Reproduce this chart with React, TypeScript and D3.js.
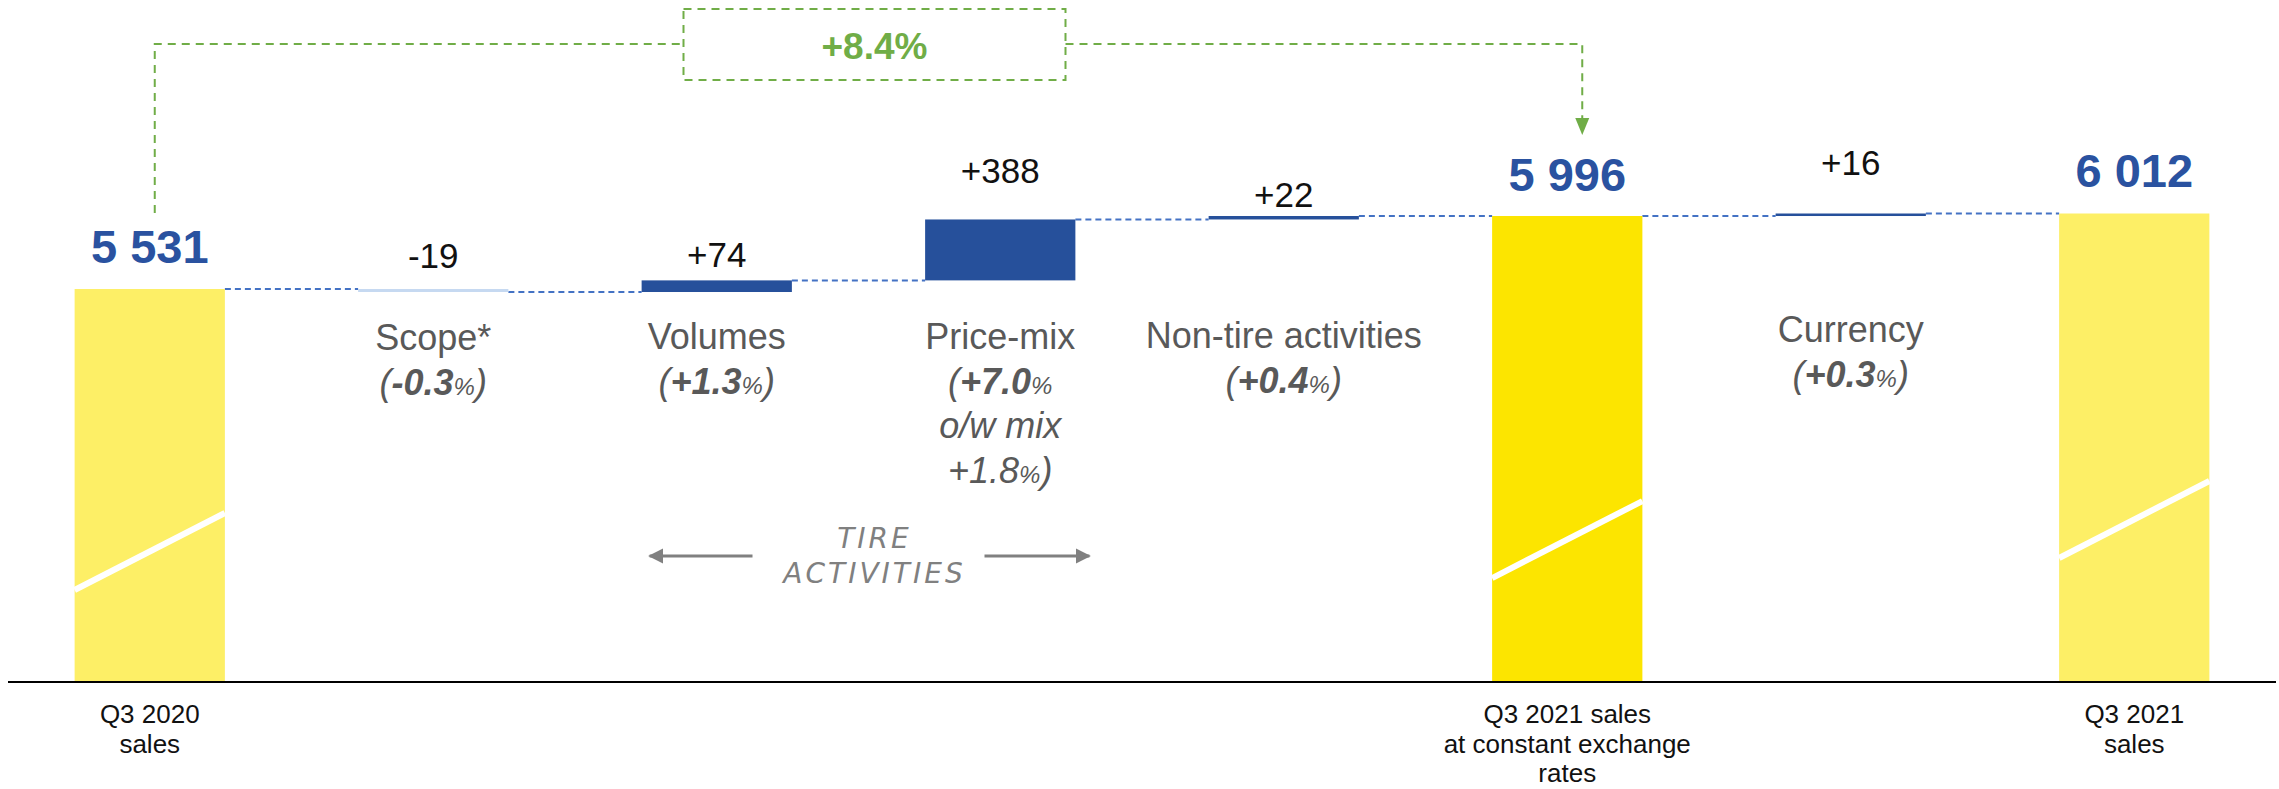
import React from "react";
import * as d3 from "d3";

// ---------- data ----------
const categories = [
  "Q3 2020 sales",
  "Scope*",
  "Volumes",
  "Price-mix",
  "Non-tire activities",
  "Q3 2021 sales at constant exchange rates",
  "Currency",
  "Q3 2021 sales",
];
const kinds = ["total", "delta", "delta", "delta", "delta", "total", "delta", "total"];
const values = [5531, -19, 74, 388, 22, 5996, 16, 6012];
const valueLabels = ["5 531", "-19", "+74", "+388", "+22", "5 996", "+16", "6 012"];
const deltaNames = ["", "Scope*", "Volumes", "Price-mix", "Non-tire activities", "", "Currency", ""];
const deltaPct = ["", "-0.3", "+1.3", "+7.0", "+0.4", "", "+0.3", ""];
const mixText = "o/w mix";
const mixPct = "+1.8";
const bottomLabels = [
  ["Q3 2020", "sales"],
  [],
  [],
  [],
  [],
  ["Q3 2021 sales", "at constant exchange", "rates"],
  [],
  ["Q3 2021", "sales"],
];
const totalChange = "+8.4%";
const tireLines = ["TIRE", "ACTIVITIES"];
// axis-break stripe level (value where the stripe starts on the left edge of each total bar)
const breakValues = [3614, 0, 0, 0, 0, 3690, 0, 3818];
const axisBase = 3028;

// ---------- layout ----------
const W = 2279;
const H = 789;
const baseY = 682;
const labelGap = [26, 21, 13, 36, 9, 25, 39, 27];
const catLabelY = [0, 350, 349, 349, 348, 0, 342, 0];
const lineStep = 44.5;

const colors = {
  totalLight: "#FDEF66",
  totalStrong: "#FCE500",
  delta: "#26509B",
  scope: "#C6D9F1",
  connector: "#4472C4",
  blueText: "#2A52A0",
  grey: "#595959",
  green: "#70AD47",
  tire: "#808080",
};

const FONT = "'Liberation Sans', Arial, sans-serif";

export default function App() {
  const x = d3
    .scaleBand<string>()
    .domain(categories)
    .range([8, 2276])
    .paddingInner(0.47)
    .paddingOuter(0.235);
  const bw = x.bandwidth();
  const y = d3.scaleLinear().domain([axisBase, 6012]).range([baseY, 213.5]);

  // waterfall levels
  let level = 0;
  const bars = values.map((v, i) => {
    let start: number, end: number;
    if (kinds[i] === "total") {
      start = axisBase;
      end = v;
    } else {
      start = level;
      end = level + v;
    }
    level = end;
    const top = Math.max(start, end);
    const bottom = Math.min(start, end);
    return { i, start, end, top, bottom, x0: x(categories[i]) as number };
  });

  const fillFor = (i: number) => {
    if (kinds[i] === "total") return i === 5 ? colors.totalStrong : colors.totalLight;
    return values[i] < 0 ? colors.scope : colors.delta;
  };

  const cx = (i: number) => (x(categories[i]) as number) + bw / 2;

  // green annotation path
  const gLeftX = cx(0) + 5;
  const gRightX = cx(5) + 15;
  const gTopY = 44;
  const gLeftBottom = 213;
  const arrowTip = 135;
  const boxCx = (gLeftX + gRightX) / 2 + 6;
  const boxW = 382;
  const boxTop = 9;
  const boxBottom = 80;

  const pctLine = (pct: string, bold: boolean, open: boolean, close: boolean) => (
    <>
      {open ? <tspan fontWeight="normal">(</tspan> : null}
      <tspan fontWeight={bold ? "bold" : "normal"}>{pct}</tspan>
      <tspan fontWeight="normal" fontSize={24}>%</tspan>
      {close ? <tspan fontWeight="normal">)</tspan> : null}
    </>
  );

  // tire activities
  const tireLeftTip = (x("Volumes") as number) + 8;
  const tireRightTip = (x("Price-mix") as number) + bw + 14;
  const tireCx = (tireLeftTip + tireRightTip) / 2 + 5;
  const tireArrowY = 556;

  return (
    <svg
      width={W}
      height={H}
      viewBox={`0 0 ${W} ${H}`}
      style={{ position: "absolute", left: 0, top: 0, display: "block", background: "#fff" }}
    >
      <defs>
        <marker id="greenArrow" viewBox="0 0 10 10" refX="10" refY="5" markerWidth="7" markerHeight="8" markerUnits="strokeWidth" orient="auto">
          <path d="M0,0 L10,5 L0,10 z" fill={colors.green} />
        </marker>
        <marker id="greyArrow" viewBox="0 0 10 10" refX="9" refY="5" markerWidth="5" markerHeight="5.5" markerUnits="strokeWidth" orient="auto">
          <path d="M0,0 L10,5 L0,10 z" fill={colors.tire} />
        </marker>
      </defs>

      {/* connectors */}
      {bars.slice(0, -1).map((b, i) => (
        <line
          key={`c${i}`}
          x1={b.x0 + bw}
          x2={bars[i + 1].x0}
          y1={y(b.end)}
          y2={y(b.end)}
          stroke={colors.connector}
          strokeWidth={2}
          strokeDasharray="6 4"
        />
      ))}

      {/* bars */}
      {bars.map((b) => (
        <rect
          key={`b${b.i}`}
          x={b.x0}
          y={y(b.top)}
          width={bw}
          height={Math.max(y(b.bottom) - y(b.top), 1)}
          fill={fillFor(b.i)}
        />
      ))}

      {/* axis break stripes */}
      {bars
        .filter((b) => kinds[b.i] === "total")
        .map((b) => (
          <line
            key={`s${b.i}`}
            x1={b.x0}
            x2={b.x0 + bw}
            y1={y(breakValues[b.i])}
            y2={y(breakValues[b.i]) - 77}
            stroke="#fff"
            strokeWidth={6}
          />
        ))}

      {/* baseline axis */}
      <line x1={8} x2={2276} y1={baseY} y2={baseY} stroke="#000" strokeWidth={2} />

      {/* value labels */}
      {bars.map((b) => {
        const isTotal = kinds[b.i] === "total";
        const labelTop = isTotal ? b.end : Math.max(b.start, b.end);
        return (
          <text
            key={`v${b.i}`}
            x={cx(b.i)}
            y={y(labelTop) - labelGap[b.i]}
            textAnchor="middle"
            fontFamily={FONT}
            fontSize={isTotal ? 47 : 35}
            fontWeight={isTotal ? "bold" : "normal"}
            fill={isTotal ? colors.blueText : "#111"}
          >
            {valueLabels[b.i]}
          </text>
        );
      })}

      {/* category labels for deltas */}
      {deltaNames.map((name, i) => {
        if (!name) return null;
        const yy = catLabelY[i];
        const isPriceMix = name === "Price-mix";
        return (
          <text key={`n${i}`} fontFamily={FONT} fontSize={36} fill={colors.grey} textAnchor="middle">
            <tspan x={cx(i)} y={yy}>{name}</tspan>
            <tspan x={cx(i)} y={yy + lineStep} fontStyle="italic">
              {pctLine(deltaPct[i], true, true, !isPriceMix)}
            </tspan>
            {isPriceMix ? (
              <>
                <tspan x={cx(i)} y={yy + lineStep * 2} fontStyle="italic">{mixText}</tspan>
                <tspan x={cx(i)} y={yy + lineStep * 3} fontStyle="italic">
                  {pctLine(mixPct, false, false, true)}
                </tspan>
              </>
            ) : null}
          </text>
        );
      })}

      {/* bottom labels */}
      {bottomLabels.map((lines, i) =>
        lines.length ? (
          <text key={`bl${i}`} fontFamily={FONT} fontSize={26} fill="#111" textAnchor="middle">
            {lines.map((ln, j) => (
              <tspan key={j} x={cx(i)} y={723 + j * 29.5}>
                {ln}
              </tspan>
            ))}
          </text>
        ) : null
      )}

      {/* tire activities */}
      <line
        x1={tireCx - 122}
        x2={tireLeftTip}
        y1={tireArrowY}
        y2={tireArrowY}
        stroke={colors.tire}
        strokeWidth={3}
        markerEnd="url(#greyArrow)"
      />
      <line
        x1={tireCx + 110}
        x2={tireRightTip}
        y1={tireArrowY}
        y2={tireArrowY}
        stroke={colors.tire}
        strokeWidth={3}
        markerEnd="url(#greyArrow)"
      />
      <text
        fontFamily="'DejaVu Sans', Verdana, sans-serif"
        fontSize={28}
        fontStyle="italic"
        fill={colors.tire}
        textAnchor="middle"
        letterSpacing={3}
      >
        <tspan x={tireCx} y={548}>{tireLines[0]}</tspan>
        <tspan x={tireCx} y={583}>{tireLines[1]}</tspan>
      </text>

      {/* green total change annotation */}
      <path
        d={`M${gLeftX},${gLeftBottom} V${gTopY} H${boxCx - boxW / 2}`}
        fill="none"
        stroke={colors.green}
        strokeWidth={2}
        strokeDasharray="8 6"
      />
      <rect
        x={boxCx - boxW / 2}
        y={boxTop}
        width={boxW}
        height={boxBottom - boxTop}
        fill="none"
        stroke={colors.green}
        strokeWidth={2}
        strokeDasharray="8 6"
      />
      <path
        d={`M${boxCx + boxW / 2},${gTopY} H${gRightX} V${arrowTip - 16}`}
        fill="none"
        stroke={colors.green}
        strokeWidth={2}
        strokeDasharray="8 6"
      />
      <path
        d={`M${gRightX - 7},${arrowTip - 17} L${gRightX + 7},${arrowTip - 17} L${gRightX},${arrowTip} Z`}
        fill={colors.green}
      />
      <text
        x={boxCx}
        y={59}
        textAnchor="middle"
        fontFamily={FONT}
        fontSize={37}
        fontWeight="bold"
        fill={colors.green}
      >
        {totalChange}
      </text>
    </svg>
  );
}
